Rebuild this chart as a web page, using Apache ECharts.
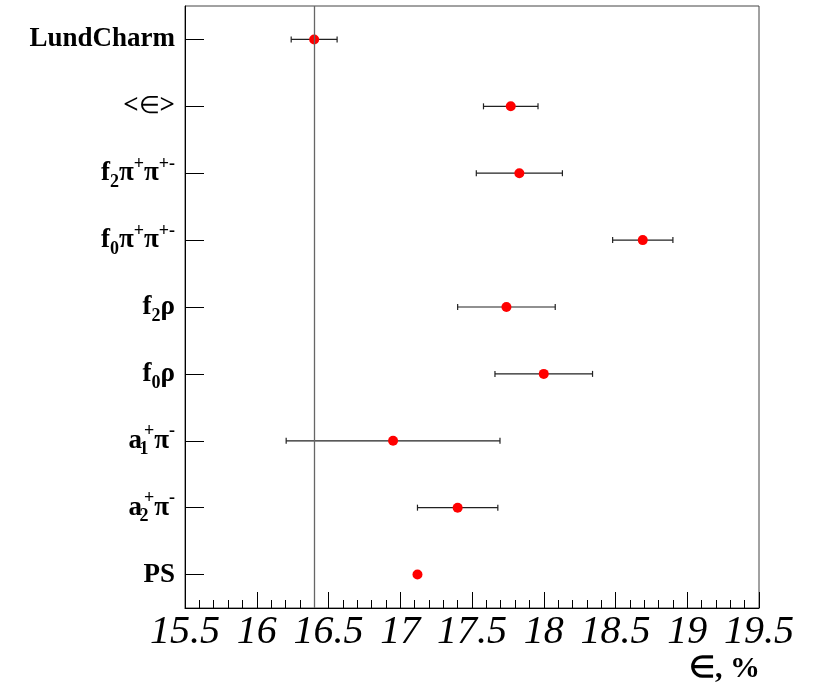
<!DOCTYPE html>
<html>
<head>
<meta charset="utf-8">
<style>
  html, body { margin: 0; padding: 0; background: #ffffff; }
  #chart { width: 826px; height: 684px; }
</style>
<script src="https://cdn.jsdelivr.net/npm/echarts@6/dist/echarts.min.js"></script>
</head>
<body>
<div id="chart"></div>
<script>
// Efficiency per decay model, top row first
const categories = ['LundCharm', '<∈>', 'f2π+π+-', 'f0π+π+-', 'f2ρ', 'f0ρ', 'a1+π-', 'a2+π-', 'PS'];
const efficiency = [16.40, 17.77, 17.83, 18.69, 17.74, 18.00, 16.95, 17.40, 17.12];
const efficiencyErr = [0.16, 0.19, 0.30, 0.21, 0.34, 0.34, 0.745, 0.28, 0];
const referenceValue = 16.40;
const xTicks = [15.5, 16, 16.5, 17, 17.5, 18, 18.5, 19, 19.5];

// Rich-text markup for the row labels (sub/superscripts)
const labelMarkup = {
  'LundCharm': '{m|LundCharm}',
  '<∈>': '{m|<}{e|∈}{m|>}',
  'f2π+π+-': '{m|f}{sub|2}{g|π}{sup|+}{g|π}{sup|+-}',
  'f0π+π+-': '{m|f}{sub|0}{g|π}{sup|+}{g|π}{sup|+-}',
  'f2ρ': '{m|f}{sub|2}{g|ρ}',
  'f0ρ': '{m|f}{sub|0}{g|ρ}',
  'a1+π-': '{m|a}{subz|1}{sup|+}{g|π}{sup|-}',
  'a2+π-': '{m|a}{subz|2}{sup|+}{g|π}{sup|-}',
  'PS': '{m|PS}'
};

const serif = "Liberation Serif";

const points = efficiency.map((v, i) => [v, i]);
const bars = efficiency.map((v, i) => [v - efficiencyErr[i], v + efficiencyErr[i], i]);

const chart = echarts.init(document.getElementById('chart'), null, { renderer: 'canvas' });

chart.setOption({
  animation: false,
  backgroundColor: '#ffffff',
  grid: {
    left: 185, top: 6, right: 67, bottom: 76,
    show: true, borderColor: '#444444', borderWidth: 1, backgroundColor: 'transparent'
  },
  xAxis: {
    type: 'value',
    min: xTicks[0],
    max: xTicks[xTicks.length - 1],
    interval: 0.5,
    axisLine: { show: true, lineStyle: { color: '#000000', width: 1 } },
    axisTick: { show: true, inside: true, length: 16, lineStyle: { color: '#000000', width: 1 } },
    minorTick: { show: true, splitNumber: 5, length: 8, lineStyle: { color: '#000000', width: 1 } },
    splitLine: { show: false },
    axisLabel: {
      margin: 4,
      formatter: v => '{it|' + v + '}',
      rich: {
        it: { fontFamily: serif, fontStyle: 'italic', fontWeight: 'normal', fontSize: 40, color: '#000000' }
      }
    }
  },
  yAxis: {
    type: 'category',
    data: categories,
    inverse: true,
    boundaryGap: true,
    axisLine: { show: true, lineStyle: { color: '#000000', width: 1 } },
    axisTick: { show: true, inside: true, length: 19, alignWithLabel: true, interval: 0,
      lineStyle: { color: '#000000', width: 1 } },
    splitLine: { show: false },
    axisLabel: {
      interval: 0,
      margin: 10,
      formatter: v => labelMarkup[v] || v,
      rich: {
        m: { fontFamily: serif, fontWeight: 'bold', fontSize: 27, color: '#000000', lineHeight: 36 },
        g: { fontFamily: serif, fontWeight: 'bold', fontSize: 27, color: '#000000', lineHeight: 36 },
        e: { fontFamily: serif, fontWeight: 'normal', fontSize: 24, color: '#000000', lineHeight: 36 },
        sub: { fontFamily: serif, fontWeight: 'bold', fontSize: 18, color: '#000000',
          lineHeight: 18, verticalAlign: 'bottom' },
        subz: { fontFamily: serif, fontWeight: 'bold', fontSize: 18, color: '#000000',
          lineHeight: 18, verticalAlign: 'bottom', width: 0, align: 'left', padding: [0, 0, 0, 2] },
        sup: { fontFamily: serif, fontWeight: 'bold', fontSize: 18, color: '#000000',
          lineHeight: 18, verticalAlign: 'top' }
      }
    }
  },
  graphic: [
    {
      type: 'text',
      right: 66,
      top: 654,
      style: {
        text: '∈, %',
        font: "bold 30px 'Liberation Serif', serif",
        fill: '#000000'
      }
    }
  ],
  series: [
    {
      type: 'custom',
      name: 'error',
      data: bars,
      z: 2,
      renderItem: function (params, api) {
        const lo = api.value(0), hi = api.value(1), cat = api.value(2);
        if (hi - lo <= 0) return null;
        const p1 = api.coord([lo, cat]);
        const p2 = api.coord([hi, cat]);
        const cap = 3;
        const style = { stroke: '#222222', lineWidth: 1.2 };
        return {
          type: 'group',
          children: [
            { type: 'line', shape: { x1: p1[0], y1: p1[1], x2: p2[0], y2: p2[1] }, style: style },
            { type: 'line', shape: { x1: p1[0], y1: p1[1] - cap, x2: p1[0], y2: p1[1] + cap }, style: style },
            { type: 'line', shape: { x1: p2[0], y1: p2[1] - cap, x2: p2[0], y2: p2[1] + cap }, style: style }
          ]
        };
      }
    },
    {
      type: 'scatter',
      name: 'efficiency',
      data: points,
      symbol: 'circle',
      symbolSize: 10,
      z: 3,
      itemStyle: { color: '#ff0000', opacity: 1 },
      markLine: {
        silent: true,
        symbol: ['none', 'none'],
        label: { show: false },
        lineStyle: { color: '#666666', width: 1.3, type: 'solid' },
        data: [{ xAxis: referenceValue }]
      }
    }
  ]
});
</script>
</body>
</html>
